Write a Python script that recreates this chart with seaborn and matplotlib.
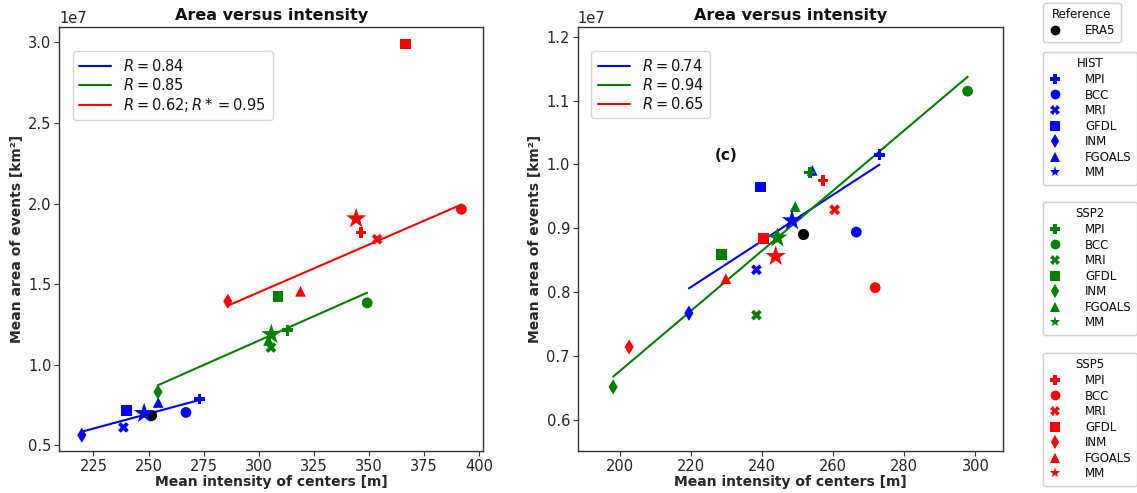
import numpy as np
import pandas as pd
import matplotlib
matplotlib.use("Agg")
import matplotlib.pyplot as plt
from matplotlib.lines import Line2D
import seaborn as sns

sns.set_style("ticks")
plt.rcParams["font.family"] = ["DejaVu Sans"]
plt.rcParams["axes.edgecolor"] = "#333333"
plt.rcParams["text.color"] = "#111111"
plt.rcParams["xtick.color"] = "#333333"
plt.rcParams["ytick.color"] = "#333333"
plt.rcParams["xtick.labelcolor"] = "#222222"
plt.rcParams["ytick.labelcolor"] = "#222222"

# ---------------------------------------------------------------- data
models = ["MPI", "BCC", "MRI", "GFDL", "INM", "FGOALS"]
scenarios = ["HIST", "SSP2", "SSP5"]
scen_colors = {"HIST": "blue", "SSP2": "green", "SSP5": "red"}
model_markers = {"MPI": "P", "BCC": "o", "MRI": "X", "GFDL": "s",
                 "INM": "d", "FGOALS": "^", "MM": "*"}

# Panel 1: mean intensity of centers [m] / mean area of events [1e7 km^2]
p1_hist_x = [273.2, 267.0, 238.6, 239.9, 219.7, 254.4]
p1_hist_y = [0.787, 0.703, 0.610, 0.717, 0.562, 0.765]
p1_ssp2_x = [313.2, 349.3, 305.6, 308.8, 254.3, 304.5]
p1_ssp2_y = [1.213, 1.383, 1.106, 1.424, 0.830, 1.150]
p1_ssp5_x = [346.5, 392.1, 353.8, 366.7, 286.0, 319.0]
p1_ssp5_y = [1.820, 1.964, 1.778, 2.990, 1.393, 1.455]
p1_mm_x = [248.0, 305.8, 344.3]
p1_mm_y = [0.697, 1.187, 1.906]
p1_era5 = (251.2, 0.688)
p1_r_labels = [r"$R = 0.84$", r"$R = 0.85$", r"$R = 0.62; R* = 0.95$"]
p1_fit_exclude = {"SSP5": ["GFDL"]}

# Panel 2
p2_hist_x = [273.0, 266.5, 238.4, 239.6, 219.4, 254.1]
p2_hist_y = [1.015, 0.894, 0.835, 0.9645, 0.767, 0.9906]
p2_ssp2_x = [253.4, 297.8, 238.4, 228.6, 198.1, 249.3]
p2_ssp2_y = [0.987, 1.1147, 0.764, 0.859, 0.6515, 0.934]
p2_ssp5_x = [257.1, 271.8, 260.4, 240.4, 202.6, 229.8]
p2_ssp5_y = [0.975, 0.807, 0.929, 0.884, 0.714, 0.821]
p2_mm_x = [248.4, 244.3, 243.8]
p2_mm_y = [0.912, 0.885, 0.856]
p2_era5 = (251.5, 0.891)
p2_r_labels = [r"$R = 0.74$", r"$R = 0.94$", r"$R = 0.65$"]
p2_fit_scen = ["HIST", "SSP2"]


def make_frame(xs, ys, mm_x, mm_y):
    rows = []
    for scen, xv, yv in zip(scenarios, xs, ys):
        for m, a, b in zip(models, xv, yv):
            rows.append({"x": a, "y": b * 1e7, "scenario": scen, "model": m})
    for scen, a, b in zip(scenarios, mm_x, mm_y):
        rows.append({"x": a, "y": b * 1e7, "scenario": scen, "model": "MM"})
    return pd.DataFrame(rows)


df1 = make_frame([p1_hist_x, p1_ssp2_x, p1_ssp5_x],
                 [p1_hist_y, p1_ssp2_y, p1_ssp5_y], p1_mm_x, p1_mm_y)
df2 = make_frame([p2_hist_x, p2_ssp2_x, p2_ssp5_x],
                 [p2_hist_y, p2_ssp2_y, p2_ssp5_y], p2_mm_x, p2_mm_y)

fig = plt.figure(figsize=(11.37, 4.93), dpi=100)
ax1 = fig.add_axes([0.052, 0.085, 0.373, 0.86])
ax2 = fig.add_axes([0.508, 0.085, 0.374, 0.86])


def draw_panel(ax, df, era5, r_labels, fit_scen, exclude):
    handles = []
    for scen, lab in zip(scenarios, r_labels):
        sub = df[(df.scenario == scen) & (df.model != "MM")]
        sub = sub[~sub.model.isin(exclude.get(scen, []))]
        if scen in fit_scen:
            sns.regplot(data=sub, x="x", y="y", ax=ax, scatter=False, ci=None,
                        truncate=True, color=scen_colors[scen],
                        line_kws={"lw": 1.5})
        handles.append(Line2D([], [], color=scen_colors[scen], lw=1.5, label=lab))
    reg = df[df.model != "MM"]
    sns.scatterplot(data=reg, x="x", y="y", hue="scenario", style="model",
                    palette=scen_colors, markers=model_markers, s=60,
                    linewidth=0, ax=ax, legend=False, zorder=3)
    mm = df[df.model == "MM"]
    sns.scatterplot(data=mm, x="x", y="y", hue="scenario", palette=scen_colors,
                    marker="*", s=240, linewidth=0, ax=ax, legend=False, zorder=4)
    ax.scatter([era5[0]], [era5[1] * 1e7], color="black", s=65, linewidth=0,
               zorder=3)
    leg = ax.legend(handles=handles, loc="upper left", fontsize=10.5,
                    bbox_to_anchor=(0.015, 0.96), handlelength=2.2,
                    borderpad=0.45, labelspacing=0.2)
    leg.get_frame().set_edgecolor("#cccccc")
    ax.set_title("Area versus intensity", fontsize=11.5, fontweight="bold", pad=5)
    ax.set_xlabel("Mean intensity of centers [m]", fontsize=10,
                  fontweight="bold", labelpad=1)
    ax.set_ylabel("Mean area of events [km²]", fontsize=10,
                  fontweight="bold", labelpad=3)
    ax.tick_params(labelsize=10.5, pad=2, length=3.5)
    ax.yaxis.get_offset_text().set_fontsize(10.5)
    for sp in ax.spines.values():
        sp.set_visible(True)
        sp.set_linewidth(1.0)


draw_panel(ax1, df1, p1_era5, p1_r_labels, scenarios, p1_fit_exclude)
draw_panel(ax2, df2, p2_era5, p2_r_labels, p2_fit_scen, {})

ax1.set_xlim(209.4, 402.0)
ax1.set_ylim(0.463e7, 3.095e7)
ax1.set_xticks([225, 250, 275, 300, 325, 350, 375, 400])
ax1.set_yticks(np.array([0.5, 1.0, 1.5, 2.0, 2.5, 3.0]) * 1e7)

ax2.set_xlim(188.1, 307.7)
ax2.set_ylim(0.551e7, 1.215e7)
ax2.set_xticks([200, 220, 240, 260, 280, 300])
ax2.set_yticks(np.array([0.6, 0.7, 0.8, 0.9, 1.0, 1.1, 1.2]) * 1e7)
ax2.text(229.8, 1.014e7, "(c)", fontsize=11, fontweight="bold",
         ha="center", va="center")


# Side legends: reference and one per scenario
def marker_handles(color, names):
    return [Line2D([], [], ls="", marker=model_markers.get(n, "o"), color=color,
                   markersize=7 if n != "MM" else 8, markeredgewidth=0, label=n)
            for n in names]


legend_specs = [
    ("Reference", marker_handles("black", ["ERA5"]), 1.0 - 3 / 493),
    ("HIST", marker_handles("blue", models + ["MM"]), 1.0 - 52 / 493),
    ("SSP2", marker_handles("green", models + ["MM"]), 1.0 - 202 / 493),
    ("SSP5", marker_handles("red", models + ["MM"]), 1.0 - 353 / 493),
]
for title, hs, top in legend_specs:
    lg = fig.legend(handles=hs, title=title, loc="upper left",
                    bbox_to_anchor=(1043 / 1137, top), borderaxespad=0,
                    fontsize=8.5, title_fontsize=8.5, handlelength=1.2,
                    handletextpad=1.9, labelspacing=0.22, borderpad=0.45,
                    frameon=True)
    lg.get_frame().set_edgecolor("#cccccc")
    fig.add_artist(lg)

fig.savefig("out.png", dpi=100)
